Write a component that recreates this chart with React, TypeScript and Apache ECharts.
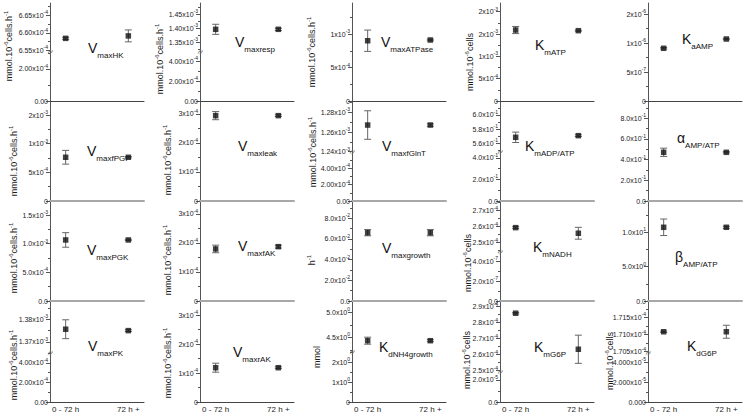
import React, { useEffect, useRef } from "react";
import * as echarts from "echarts";

const FONT = "Liberation Sans";
const periods = ["0 - 72 h", "72 h +"];
const periodX = [0, 1];

// ---- values (mean, error half-width) ----
const hkMean = [6.584e-4, 6.591e-4];
const hkErr = [0.003e-4, 0.017e-4];
const respMean = [1.396e-3, 1.396e-3];
const respErr = [0.018e-3, 0.004e-3];
const atpaseMean = [0.904e-3, 0.915e-3];
const atpaseErr = [0.16e-3, 0.012e-3];
const kmATPMean = [1.59e-3, 1.575e-3];
const kmATPErr = [0.08e-3, 0.012e-3];
const kaAMPMean = [0.909e-6, 1.069e-6];
const kaAMPErr = [0.012e-6, 0.012e-6];

const pgiMean = [0.763e-3, 0.763e-3];
const pgiErr = [0.12e-3, 0.012e-3];
const leakMean = [2.94e-4, 2.94e-4];
const leakErr = [0.14e-4, 0.03e-4];
const glntMean = [1.2671e-3, 1.2671e-3];
const glntErr = [0.0145e-3, 0.0012e-3];
const kmADPMean = [0.5684, 0.5707];
const kmADPErr = [0.0073, 0.0012];
const alphaMean = [0.4705, 0.4705];
const alphaErr = [0.04, 0.006];

const pgkMean = [1.065e-3, 1.065e-3];
const pgkErr = [0.127e-3, 0.012e-3];
const fakMean = [1.793e-4, 1.872e-4];
const fakErr = [0.13e-4, 0.05e-4];
const growthMean = [0.066, 0.066];
const growthErr = [0.003, 0.003];
const nadhMean = [2.594e-4, 2.559e-4];
const nadhErr = [0.006e-4, 0.037e-4];
const betaMean = [10.73, 10.73];
const betaErr = [1.2, 0.15];

const pkMean = [1.37558e-3, 1.37496e-3];
const pkErr = [0.0042e-3, 0.0004e-3];
const rakMean = [1.183e-4, 1.183e-4];
const rakErr = [0.155e-4, 0.03e-4];
const nh4Mean = [4.432, 4.432];
const nh4Err = [0.07, 0.02];
const g6pMean = [2.859e-4, 2.634e-4];
const g6pErr = [0.005e-4, 0.088e-4];
const kdG6PMean = [1.71081e-4, 1.71081e-4];
const kdG6PErr = [0.0002e-4, 0.0019e-4];

// ---- tick values and labels ----
const hkUpTicks = [6.55e-4, 6.6e-4, 6.65e-4];
const hkUpLabels = ["6.55x10^-4", "6.60x10^-4", "6.65x10^-4"];
const hkLoTicks = [0, 2e-4];
const hkLoLabels = ["0.00", "2.00x10^-4"];
const respUpTicks = [1.35e-3, 1.4e-3, 1.45e-3];
const respUpLabels = ["1.35x10^-3", "1.40x10^-3", "1.45x10^-3"];
const respLoTicks = [0, 2e-4, 4e-4];
const respLoLabels = ["0.00", "2.00x10^-4", "4.00x10^-4"];
const atpaseTicks = [0, 5e-4, 1e-3];
const atpaseLabels = ["0", "5x10^-4", "1x10^-3"];
const kmATPTicks = [0, 5e-4, 1e-3, 1.5e-3, 2e-3];
const kmATPLabels = ["0", "5x10^-4", "1x10^-3", "2x10^-3", "2x10^-3"];
const kaAMPTicks = [0, 5e-7, 1e-6, 1.5e-6];
const kaAMPLabels = ["0", "5x10^-7", "1x10^-6", "2x10^-6"];

const pgiTicks = [0, 5e-4, 1e-3, 1.5e-3];
const pgiLabels = ["0", "5x10^-4", "1x10^-3", "2x10^-3"];
const leakTicks = [0, 1e-4, 2e-4, 3e-4];
const leakLabels = ["0", "1x10^-4", "2x10^-4", "3x10^-4"];
const glntUpTicks = [1.24e-3, 1.26e-3, 1.28e-3];
const glntUpLabels = ["1.24x10^-3", "1.26x10^-3", "1.28x10^-3"];
const glntLoTicks = [0, 2e-4, 4e-4];
const glntLoLabels = ["0.00", "2.00x10^-4", "4.00x10^-4"];
const kmADPUpTicks = [0.56, 0.58, 0.6];
const kmADPUpLabels = ["5.6x10^-1", "5.8x10^-1", "6.0x10^-1"];
const kmADPLoTicks = [0, 0.2, 0.4];
const kmADPLoLabels = ["0.0", "2.0x10^-1", "4.0x10^-1"];
const alphaTicks = [0, 0.2, 0.4, 0.6, 0.8];
const alphaLabels = ["0.0", "2.0x10^-1", "4.0x10^-1", "6.0x10^-1", "8.0x10^-1"];

const pgkTicks = [0, 5e-4, 1e-3, 1.5e-3];
const pgkLabels = ["0.0", "5.0x10^-4", "1.0x10^-3", "1.5x10^-3"];
const fakTicks = [0, 1e-4, 2e-4, 3e-4];
const fakLabels = ["0", "1x10^-4", "2x10^-4", "3x10^-4"];
const growthTicks = [0, 0.02, 0.04, 0.06, 0.08];
const growthLabels = ["0.0", "2.0x10^-2", "4.0x10^-2", "6.0x10^-2", "8.0x10^-2"];
const nadhUpTicks = [2.5e-4, 2.6e-4, 2.7e-4];
const nadhUpLabels = ["2.5x10^-4", "2.6x10^-4", "2.7x10^-4"];
const nadhLoTicks = [0, 2e-7, 4e-7];
const nadhLoLabels = ["0.0", "2.0x10^-7", "4.0x10^-7"];
const betaTicks = [0, 5, 10];
const betaLabels = ["0.0", "5.0x10^0", "1.0x10^1"];

const pkUpTicks = [1.37e-3, 1.38e-3];
const pkUpLabels = ["1.37x10^-3", "1.38x10^-3"];
const pkLoTicks = [0, 2e-4, 4e-4];
const pkLoLabels = ["0.00", "2.00x10^-4", "4.00x10^-4"];
const rakTicks = [0, 1e-4, 2e-4, 3e-4];
const rakLabels = ["0", "1x10^-4", "2x10^-4", "3x10^-4"];
const nh4UpTicks = [4.5, 5.0];
const nh4UpLabels = ["4.5x10^0", "5.0x10^0"];
const nh4LoTicks = [0, 1, 2];
const nh4LoLabels = ["0", "1x10^0", "2x10^0"];
const g6pUpTicks = [2.5e-4, 2.6e-4, 2.7e-4, 2.8e-4, 2.9e-4];
const g6pUpLabels = ["2.5x10^-4", "2.6x10^-4", "2.7x10^-4", "2.8x10^-4", "2.9x10^-4"];
const g6pLoTicks = [0, 2e-5];
const g6pLoLabels = ["0.0", "2.0x10^-5"];
const kdG6PUpTicks = [1.705e-4, 1.71e-4, 1.715e-4];
const kdG6PUpLabels = ["1.705x10^-4", "1.710x10^-4", "1.715x10^-4"];
const kdG6PLoTicks = [0, 2e-5, 4e-5];
const kdG6PLoLabels = ["0.000", "2.000x10^-5", "4.000x10^-5"];

const U1 = "mmol.10^-6cells.h^-1";
const U2 = "mmol.10^-6cells";

// ---- layout ----
const COLS = [50, 200, 352, 500, 648];
const PW = 94;
const ROW_TOP = [3, 102, 202, 302];
const ROW_BOT = [101, 201, 301, 402];

type Seg = { min: number; max: number; ticks: number[]; labels: string[] };
type Panel = {
  row: number; col: number; sym: string; sub: string; tx: number; ty: number;
  unit: string | null; nx?: number; ny?: number;
  mean: number[]; err: number[]; segs: Seg[]; brk?: number;
};

const panels: Panel[] = [
  { row: 0, col: 0, sym: "V", sub: "maxHK", tx: 88, ty: 48, unit: U1, nx: 9, ny: 46, mean: hkMean, err: hkErr, brk: 52,
    segs: [{ min: 6.545e-4, max: 6.685e-4, ticks: hkUpTicks, labels: hkUpLabels }, { min: 0, max: 3.06e-4, ticks: hkLoTicks, labels: hkLoLabels }] },
  { row: 0, col: 1, sym: "V", sub: "maxresp", tx: 235, ty: 42, unit: U1, nx: 160, ny: 59, mean: respMean, err: respErr, brk: 52,
    segs: [{ min: 1.315e-3, max: 1.49e-3, ticks: respUpTicks, labels: respUpLabels }, { min: 0, max: 4.9e-4, ticks: respLoTicks, labels: respLoLabels }] },
  { row: 0, col: 2, sym: "V", sub: "maxATPase", tx: 381, ty: 42, unit: U1, nx: 312, ny: 52, mean: atpaseMean, err: atpaseErr,
    segs: [{ min: 0, max: 1.47e-3, ticks: atpaseTicks, labels: atpaseLabels }] },
  { row: 0, col: 3, sym: "K", sub: "mATP", tx: 535, ty: 45, unit: U2, nx: 470, ny: 62, mean: kmATPMean, err: kmATPErr,
    segs: [{ min: 0, max: 2.195e-3, ticks: kmATPTicks, labels: kmATPLabels }] },
  { row: 0, col: 4, sym: "K", sub: "aAMP", tx: 682, ty: 39, unit: null, mean: kaAMPMean, err: kaAMPErr,
    segs: [{ min: 0, max: 1.69e-6, ticks: kaAMPTicks, labels: kaAMPLabels }] },

  { row: 1, col: 0, sym: "V", sub: "maxfPGI", tx: 87, ty: 151, unit: U1, nx: 14, ny: 161, mean: pgiMean, err: pgiErr,
    segs: [{ min: 0, max: 1.727e-3, ticks: pgiTicks, labels: pgiLabels }] },
  { row: 1, col: 1, sym: "V", sub: "maxleak", tx: 238, ty: 146, unit: U1, nx: 168, ny: 160, mean: leakMean, err: leakErr,
    segs: [{ min: 0, max: 3.41e-4, ticks: leakTicks, labels: leakLabels }] },
  { row: 1, col: 2, sym: "V", sub: "maxfGlnT", tx: 382, ty: 146, unit: U1, nx: 313, ny: 152, mean: glntMean, err: glntErr, brk: 152,
    segs: [{ min: 1.2397e-3, max: 1.2905e-3, ticks: glntUpTicks, labels: glntUpLabels }, { min: 0, max: 6e-4, ticks: glntLoTicks, labels: glntLoLabels }] },
  { row: 1, col: 3, sym: "K", sub: "mADP/ATP", tx: 525, ty: 146, unit: null, mean: kmADPMean, err: kmADPErr, brk: 152,
    segs: [{ min: 0.5477, max: 0.6181, ticks: kmADPUpTicks, labels: kmADPUpLabels }, { min: 0, max: 0.4537, ticks: kmADPLoTicks, labels: kmADPLoLabels }] },
  { row: 1, col: 4, sym: "α", sub: "AMP/ATP", tx: 677, ty: 138, unit: null, mean: alphaMean, err: alphaErr,
    segs: [{ min: 0, max: 0.9565, ticks: alphaTicks, labels: alphaLabels }] },

  { row: 2, col: 0, sym: "V", sub: "maxPGK", tx: 87, ty: 250, unit: U1, nx: 14, ny: 258, mean: pgkMean, err: pgkErr,
    segs: [{ min: 0, max: 1.727e-3, ticks: pgkTicks, labels: pgkLabels }] },
  { row: 2, col: 1, sym: "V", sub: "maxfAK", tx: 238, ty: 246, unit: U1, nx: 168, ny: 260, mean: fakMean, err: fakErr,
    segs: [{ min: 0, max: 3.41e-4, ticks: fakTicks, labels: fakLabels }] },
  { row: 2, col: 2, sym: "V", sub: "maxgrowth", tx: 382, ty: 248, unit: "h^-1", nx: 312, ny: 260, mean: growthMean, err: growthErr,
    segs: [{ min: 0, max: 0.09565, ticks: growthTicks, labels: growthLabels }] },
  { row: 2, col: 3, sym: "K", sub: "mNADH", tx: 533, ty: 247, unit: U2, nx: 468, ny: 263, mean: nadhMean, err: nadhErr, brk: 252,
    segs: [{ min: 2.442e-4, max: 2.754e-4, ticks: nadhUpTicks, labels: nadhUpLabels }, { min: 0, max: 4.9e-7, ticks: nadhLoTicks, labels: nadhLoLabels }] },
  { row: 2, col: 4, sym: "β", sub: "AMP/ATP", tx: 675, ty: 257, unit: null, mean: betaMean, err: betaErr,
    segs: [{ min: 0, max: 14.41, ticks: betaTicks, labels: betaLabels }] },

  { row: 3, col: 0, sym: "V", sub: "maxPK", tx: 88, ty: 346, unit: U1, nx: 14, ny: 365, mean: pkMean, err: pkErr, brk: 353,
    segs: [{ min: 1.365e-3, max: 1.3877e-3, ticks: pkUpTicks, labels: pkUpLabels }, { min: 0, max: 5e-4, ticks: pkLoTicks, labels: pkLoLabels }] },
  { row: 3, col: 1, sym: "V", sub: "maxrAK", tx: 233, ty: 352, unit: U1, nx: 168, ny: 363, mean: rakMean, err: rakErr,
    segs: [{ min: 0, max: 3.45e-4, ticks: rakTicks, labels: rakLabels }] },
  { row: 3, col: 2, sym: "K", sub: "dNH4growth", tx: 379, ty: 347, unit: "mmol", nx: 317, ny: 357, mean: nh4Mean, err: nh4Err, brk: 352,
    segs: [{ min: 4.206, max: 5.206, ticks: nh4UpTicks, labels: nh4UpLabels }, { min: 0, max: 2.5, ticks: nh4LoTicks, labels: nh4LoLabels }] },
  { row: 3, col: 3, sym: "K", sub: "mG6P", tx: 534, ty: 347, unit: U2, nx: 467, ny: 360, mean: g6pMean, err: g6pErr, brk: 372,
    segs: [{ min: 2.492e-4, max: 2.929e-4, ticks: g6pUpTicks, labels: g6pUpLabels }, { min: 0, max: 2.7e-5, ticks: g6pLoTicks, labels: g6pLoLabels }] },
  { row: 3, col: 4, sym: "K", sub: "dG6P", tx: 687, ty: 346, unit: U2, nx: 610, ny: 361, mean: kdG6PMean, err: kdG6PErr, brk: 353,
    segs: [{ min: 1.7046e-4, max: 1.7195e-4, ticks: kdG6PUpTicks, labels: kdG6PUpLabels }, { min: 0, max: 4.9e-5, ticks: kdG6PLoTicks, labels: kdG6PLoLabels }] },
];

function richText(text: string, base: string, sup: string): string {
  const s = `{${base}|` + text.replace(/\^(-?\d+)/g, (_m, e) => `}{${sup}|${e}}{${base}|`) + `}`;
  return s.split(`{${base}|}`).join("");
}

function nearestLabel(s: Seg, v: number): string {
  let bi = 0;
  let bd = Infinity;
  s.ticks.forEach((t, i) => {
    const d = Math.abs(t - v);
    if (d < bd) { bd = d; bi = i; }
  });
  return s.labels[bi];
}

function minorTicks(s: Seg): number[] {
  const out: number[] = [];
  if (s.ticks.length < 2) return out;
  const step = s.ticks[1] - s.ticks[0];
  const eps = step * 1e-6;
  for (let k = -1; k < 100; k++) {
    const v = s.ticks[0] + step / 2 + k * step;
    if (v > s.max + eps) break;
    if (v >= s.min - eps) out.push(v);
  }
  return out;
}

const AX = "#555";
const TXT = "#1a1a1a";

const tickRich = {
  m: { fontSize: 7, lineHeight: 11, verticalAlign: "middle", color: TXT, fontFamily: FONT },
  e: { fontSize: 5, lineHeight: 5, verticalAlign: "top", color: TXT, fontFamily: FONT },
};
const nameRich = {
  n: { fontSize: 9, lineHeight: 12, verticalAlign: "middle", fill: TXT, fontFamily: FONT },
  e: { fontSize: 6, lineHeight: 6, verticalAlign: "top", fill: TXT, fontFamily: FONT },
};
const titleRich = {
  b: { fontSize: 14, lineHeight: 22, verticalAlign: "middle", fill: "#111", fontFamily: FONT },
  s: { fontSize: 8, lineHeight: 8, verticalAlign: "bottom", fill: "#111", fontFamily: FONT },
};

function xLine(row: number) {
  return row === 1 || row === 2 ? { color: "#a8a8a8", width: 2 } : { color: "#444", width: 1 };
}

function buildOption() {
  const grid: any[] = [];
  const xAxis: any[] = [];
  const yAxis: any[] = [];
  const series: any[] = [];
  const graphic: any[] = [];

  panels.forEach((p) => {
    const left = COLS[p.col];
    const top = ROW_TOP[p.row];
    const bottom = ROW_BOT[p.row];
    const bounds = p.segs.length === 2 ? [[top, p.brk as number], [p.brk as number, bottom]] : [[top, bottom]];
    const lastRow = p.row === 3;

    p.segs.forEach((s, si) => {
      const gi = grid.length;
      const [t, b] = bounds[si];
      const isLow = si === p.segs.length - 1;
      grid.push({ left, top: t, width: PW, height: b - t, containLabel: false, outerBoundsMode: "none" });
      xAxis.push({
        gridIndex: gi, type: "value", min: -0.25, max: 1.25, show: isLow,
        axisLine: { show: true, onZero: false, lineStyle: xLine(p.row) },
        axisTick: { show: false },
        splitLine: { show: false },
        axisLabel: {
          show: lastRow, customValues: periodX,
          formatter: (v: number) => periods[Math.round(v)] ?? "",
          fontSize: 8, color: TXT, fontFamily: FONT, margin: 3,
        },
      });
      const yi = yAxis.length;
      yAxis.push({
        gridIndex: gi, type: "value", min: s.min, max: s.max, position: "left",
        axisLine: { show: true, onZero: false, lineStyle: { color: AX, width: 1 } },
        axisTick: { show: true, customValues: s.ticks, length: 4, lineStyle: { color: AX } },
        axisLabel: {
          customValues: s.ticks, margin: 2,
          formatter: (v: number) => richText(nearestLabel(s, v), "m", "e"),
          rich: tickRich,
        },
        splitLine: { show: false },
      });
      yAxis.push({
        gridIndex: gi, type: "value", min: s.min, max: s.max, position: "left",
        axisLine: { show: false, onZero: false },
        axisTick: { show: true, customValues: minorTicks(s), length: 2, lineStyle: { color: AX } },
        axisLabel: { show: false },
        splitLine: { show: false },
      });
      if (si === 0) {
        series.push({
          type: "custom", xAxisIndex: gi, yAxisIndex: yi, z: 2,
          data: p.mean.map((m, i) => [periodX[i], m, m - p.err[i], m + p.err[i]]),
          encode: { x: 0, y: [1, 2, 3] },
          renderItem: (_params: any, api: any) => {
            const x = api.value(0);
            const lo = api.coord([x, api.value(2)]);
            const hi = api.coord([x, api.value(3)]);
            const cw = 3.5;
            const style = { stroke: "#666", lineWidth: 1, fill: null };
            return {
              type: "group",
              children: [
                { type: "line", shape: { x1: hi[0], y1: hi[1], x2: lo[0], y2: lo[1] }, style },
                { type: "line", shape: { x1: hi[0] - cw, y1: hi[1], x2: hi[0] + cw, y2: hi[1] }, style },
                { type: "line", shape: { x1: lo[0] - cw, y1: lo[1], x2: lo[0] + cw, y2: lo[1] }, style },
              ],
            };
          },
        });
        series.push({
          type: "scatter", xAxisIndex: gi, yAxisIndex: yi, z: 3,
          symbol: "rect", symbolSize: 5.5,
          itemStyle: { color: "#111" },
          data: p.mean.map((m, i) => [periodX[i], m]),
        });
      }
    });

    if (p.brk !== undefined) {
      graphic.push({
        type: "text", x: left, y: p.brk, z: 100, rotation: Math.PI / 3,
        style: { text: "≈", fontSize: 10, fill: "#666", align: "center", verticalAlign: "middle", fontFamily: FONT },
      });
    }
    if (p.unit) {
      graphic.push({
        type: "text", x: p.nx, y: p.ny, rotation: Math.PI / 2, z: 100,
        style: { text: richText(p.unit, "n", "e"), rich: nameRich, align: "center", verticalAlign: "middle", fill: TXT },
      });
    }
    graphic.push({
      type: "text", x: p.tx, y: p.ty, z: 100,
      style: { text: `{b|${p.sym}}{s|${p.sub}}`, rich: titleRich, align: "left", verticalAlign: "middle", fill: "#111" },
    });
  });

  return {
    animation: false,
    backgroundColor: "#ffffff",
    textStyle: { fontFamily: FONT },
    grid, xAxis, yAxis, series, graphic,
  };
}

export default function App() {
  const ref = useRef<HTMLDivElement | null>(null);
  useEffect(() => {
    if (!ref.current) return;
    const chart = echarts.init(ref.current, null, { renderer: "svg" });
    chart.setOption(buildOption() as any);
    return () => chart.dispose();
  }, []);
  return (
    <div
      ref={ref}
      style={{ position: "fixed", left: 0, top: 0, width: 748, height: 416, background: "#fff" }}
    />
  );
}
